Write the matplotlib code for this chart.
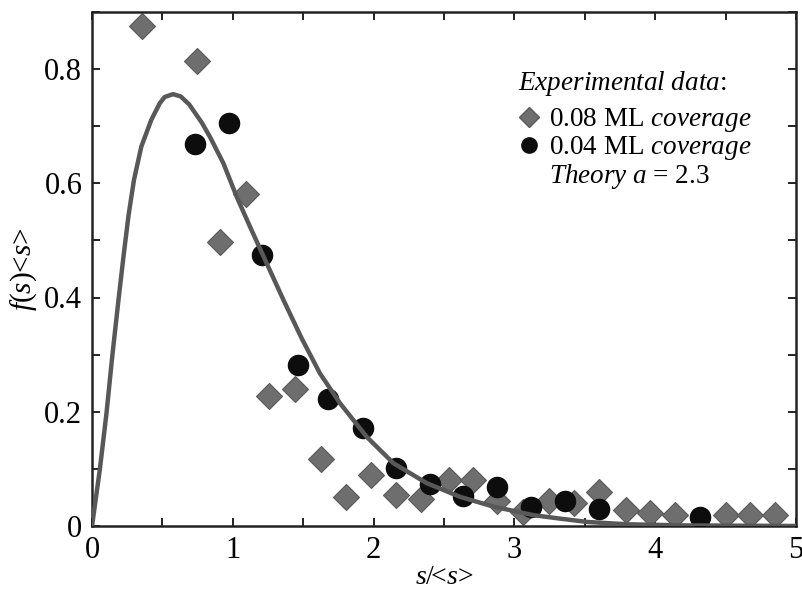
import matplotlib
matplotlib.use("Agg")
from matplotlib import pyplot as plt
from matplotlib.lines import Line2D
from matplotlib.ticker import MultipleLocator, FixedLocator, FixedFormatter

plt.rcParams["font.family"] = ["Liberation Serif", "DejaVu Serif"]
plt.rcParams["mathtext.fontset"] = "custom"
plt.rcParams["mathtext.rm"] = "Liberation Serif"
plt.rcParams["mathtext.it"] = "Liberation Serif:italic"

# 0.08 ML coverage (diamonds)
x_08 = [0.355, 0.746, 0.909, 1.094, 1.257, 1.442, 1.624, 1.804, 1.98, 2.159,
        2.337, 2.538, 2.704, 2.874, 3.059, 3.248, 3.42, 3.60, 3.79, 3.96,
        4.14, 4.50, 4.67, 4.85]
y_08 = [0.875, 0.814, 0.497, 0.581, 0.228, 0.240, 0.117, 0.051, 0.089, 0.054,
        0.048, 0.081, 0.081, 0.043, 0.025, 0.043, 0.040, 0.060, 0.028, 0.023,
        0.019, 0.019, 0.019, 0.019]

# 0.04 ML coverage (circles)
x_04 = [0.731, 0.973, 1.207, 1.462, 1.677, 1.923, 2.159, 2.40, 2.636, 2.879,
        3.118, 3.36, 3.60, 4.32]
y_04 = [0.669, 0.705, 0.474, 0.281, 0.222, 0.172, 0.102, 0.073, 0.053, 0.069,
        0.034, 0.044, 0.030, 0.016]

# theory curve, a = 2.3
x_th = [0, 0.055, 0.103, 0.145, 0.188, 0.225, 0.26, 0.298, 0.350, 0.421,
        0.481, 0.516, 0.575, 0.63, 0.69, 0.78, 0.838, 0.933, 1.028, 1.122,
        1.229, 1.359, 1.49, 1.619, 1.761, 1.951, 2.140, 2.377, 2.614, 2.850,
        3.134, 3.32, 3.52, 3.8, 4.2, 5.0]
y_th = [0, 0.098, 0.198, 0.300, 0.396, 0.475, 0.545, 0.606, 0.664, 0.711,
        0.740, 0.751, 0.756, 0.752, 0.738, 0.706, 0.681, 0.635, 0.576, 0.524,
        0.466, 0.396, 0.328, 0.267, 0.215, 0.156, 0.110, 0.075, 0.051, 0.034,
        0.019, 0.013, 0.007, 0.003, 0.001, 0.0]

x_ticks = [0, 1, 2, 3, 4, 5]
x_tick_labels = ["0", "1", "2", "3", "4", "5"]
y_ticks = [0, 0.2, 0.4, 0.6, 0.8]
y_tick_labels = ["0", "0.2", "0.4", "0.6", "0.8"]

fig = plt.figure(figsize=(8.03, 5.95), dpi=100)
ax = fig.add_axes([0.1146, 0.116, 0.8767, 0.864])

diamond_color = "#6e6e6e"
ax.plot(x_08, y_08, linestyle="none", marker="D", markersize=13.5,
        markerfacecolor=diamond_color, markeredgecolor="#5a5a5a",
        markeredgewidth=0.8, zorder=2)
ax.plot(x_04, y_04, linestyle="none", marker="o", markersize=14.5,
        markerfacecolor="#0d0d0d", markeredgecolor="#0d0d0d", zorder=3)
ax.plot(x_th, y_th, color="#585858", linewidth=3.2, zorder=4,
        solid_joinstyle="round", solid_capstyle="round")

ax.set_xlim(0, 5)
ax.set_ylim(0, 0.9)

ax.xaxis.set_major_locator(FixedLocator(x_ticks))
ax.xaxis.set_major_formatter(FixedFormatter(x_tick_labels))
ax.xaxis.set_minor_locator(MultipleLocator(0.5))
ax.yaxis.set_major_locator(FixedLocator(y_ticks))
ax.yaxis.set_major_formatter(FixedFormatter(y_tick_labels))
ax.yaxis.set_minor_locator(MultipleLocator(0.1))

ax.tick_params(which="both", direction="in", top=True, right=True,
               width=1.4, color="#222222")
ax.tick_params(which="major", length=6, labelsize=22, pad=7)
ax.tick_params(which="minor", length=6)
for sp in ax.spines.values():
    sp.set_linewidth(1.8)
    sp.set_color("#222222")

ax.set_xlabel(r"$s$/<$s$>", fontsize=20, labelpad=0)
ax.set_ylabel(r"$f$($s$)<$s$>", fontsize=21, labelpad=4)

handles = [
    Line2D([], [], linestyle="none", marker="D", markersize=10,
           markerfacecolor=diamond_color, markeredgecolor="#5a5a5a"),
    Line2D([], [], linestyle="none", marker="o", markersize=11,
           markerfacecolor="#0d0d0d", markeredgecolor="#0d0d0d"),
    Line2D([], [], linestyle="none"),
]
labels = [r"0.08 ML $\mathit{coverage}$",
          r"0.04 ML $\mathit{coverage}$",
          r"$\mathit{Theory\ a}$ = 2.3"]
leg = ax.legend(handles, labels, title=r"$\mathit{Experimental\ data}$:",
                loc="upper left", bbox_to_anchor=(0.59, 0.91), frameon=False,
                fontsize=19.5, title_fontsize=19.5, handlelength=0.8,
                handletextpad=0.35, labelspacing=0.0, borderaxespad=0,
                alignment="left")
leg._legend_box.sep = 6

fig.savefig("out.png", dpi=100)
